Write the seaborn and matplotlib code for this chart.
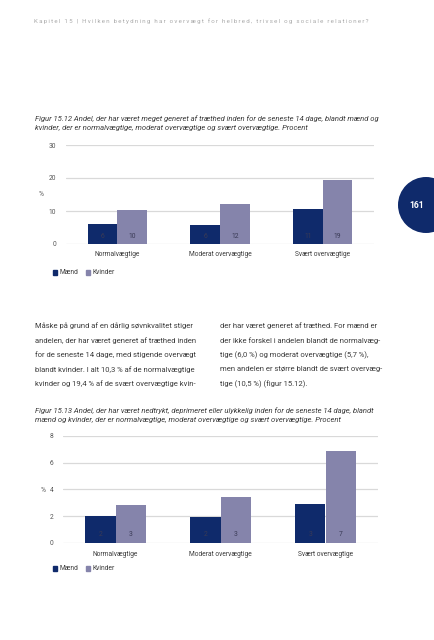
import numpy as np
import pandas as pd
import matplotlib
matplotlib.use("Agg")
import matplotlib.pyplot as plt
import matplotlib.patches as mpatches
import seaborn as sns

# ------------------------------------------------------------------------
# Data
# ------------------------------------------------------------------------
kategorier = ["Normalvægtige", "Moderat overvægtige", "Svært overvægtige"]
koen = ["Mænd", "Kvinder"]

# Figur 15.12 - generet af træthed (procent)
traet_maend = [6.0, 5.7, 10.5]
traet_kvinder = [10.3, 12.0, 19.4]

# Figur 15.13 - nedtrykt, deprimeret eller ulykkelig (procent)
nedtrykt_maend = [2.0, 1.9, 2.9]
nedtrykt_kvinder = [2.8, 3.4, 6.9]

ticks_1 = [0, 10, 20, 30]
ticks_2 = [0, 2, 4, 6, 8]

header = "Kapitel 15 | Hvilken betydning har overvægt for helbred, trivsel og sociale relationer?"
caption_1 = ("Figur 15.12 Andel, der har været meget generet af træthed inden for de seneste 14 dage, blandt mænd og\n"
             "kvinder, der er normalvægtige, moderat overvægtige og svært overvægtige. Procent")
caption_2 = ("Figur 15.13 Andel, der har været nedtrykt, deprimeret eller ulykkelig inden for de seneste 14 dage, blandt\n"
             "mænd og kvinder, der er normalvægtige, moderat overvægtige og svært overvægtige. Procent")
tekst_venstre = ["Måske på grund af en dårlig søvnkvalitet stiger",
                 "andelen, der har været generet af træthed inden",
                 "for de seneste 14 dage, med stigende overvægt",
                 "blandt kvinder. I alt 10,3 % af de normalvægtige",
                 "kvinder og 19,4 % af de svært overvægtige kvin-"]
tekst_hoejre = ["der har været generet af træthed. For mænd er",
                "der ikke forskel i andelen blandt de normalvæg-",
                "tige (6,0 %) og moderat overvægtige (5,7 %),",
                "men andelen er større blandt de svært overvæg-",
                "tige (10,5 %) (figur 15.12)."]

# ------------------------------------------------------------------------
# Styling
# ------------------------------------------------------------------------
sns.set_theme(style="white")
plt.rcParams["font.family"] = ["Roboto", "DejaVu Sans"]

DARK = "#0f2a6b"
LIGHT = "#8584ab"
GRID = "#d9d9d9"
TXT = "#3c3c3c"

W, H = 434, 640
fig = plt.figure(figsize=(W / 100, H / 100), dpi=100)


def fx(px):
    return px / W


def fy(py):
    return 1 - py / H


def draw_chart(left, right, y0, ytop, maend, kvinder, ticks, pct_y, cat_y, leg_y, lab_y):
    ax = fig.add_axes([fx(left), fy(y0), fx(right - left), (y0 - ytop) / H])
    df = pd.DataFrame({
        "kategori": kategorier * 2,
        "køn": [koen[0]] * 3 + [koen[1]] * 3,
        "pct": list(maend) + list(kvinder),
    })
    sns.barplot(data=df, x="kategori", y="pct", hue="køn", order=kategorier,
                hue_order=koen, palette=[DARK, LIGHT], width=0.58,
                saturation=1, legend=False, linewidth=0, ax=ax)
    ax.set_ylim(ticks[0], ticks[-1])
    ax.set_xlim(-0.5, 2.5)
    ax.set_yticks(ticks)
    for t in ticks:
        ax.axhline(t, color=GRID, lw=0.9, zorder=0)
    for s in ax.spines.values():
        s.set_visible(False)
    ax.set_xlabel("")
    ax.set_ylabel("")
    ax.set_xticks([])
    ax.tick_params(axis="y", length=0, pad=7, labelsize=4.8, labelcolor="#555555")
    ax.set_facecolor("none")

    # value labels near the base of each bar
    for cont in ax.containers:
        for p in cont:
            v = p.get_height()
            ax.annotate(f"{int(v + 0.5)}", (p.get_x() + p.get_width() / 2, 0),
                        xytext=(0, (y0 - lab_y) * 0.72), textcoords="offset points",
                        ha="center", va="center", fontsize=4.9, color="#3a3a55")

    # category labels
    for i, k in enumerate(kategorier):
        ax.annotate(k, (i, 0), xytext=(0, -(cat_y - y0) * 0.72), textcoords="offset points",
                    ha="center", va="center", fontsize=4.8, color=TXT, annotation_clip=False)

    fig.text(fx(pct_y[0]), fy(pct_y[1]), "%", fontsize=4.8, color="#555555", ha="center", va="center")

    handles = [mpatches.Patch(color=DARK, label=koen[0]), mpatches.Patch(color=LIGHT, label=koen[1])]
    fig.legend(handles=handles, loc="center left", bbox_to_anchor=(fx(50), fy(leg_y)),
               ncol=2, frameon=False, fontsize=4.8, handlelength=0.7, handleheight=0.7,
               handletextpad=0.3, columnspacing=1.1, labelcolor=TXT, borderaxespad=0)
    return ax


# Figur 15.12
draw_chart(66, 374, 244, 145, traet_maend, traet_kvinder, ticks_1,
           (41, 195), 254, 273, 237)
# Figur 15.13
draw_chart(63, 378, 542.7, 436, nedtrykt_maend, nedtrykt_kvinder, ticks_2,
           (43, 491), 554, 569, 535)

# ------------------------------------------------------------------------
# Page text
# ------------------------------------------------------------------------
# letter-spaced running header (thin spaces between characters)
header_spaced = "\u2009".join(header)
fig.text(fx(34), fy(21), header_spaced, fontsize=4.45, color="#aaaaaa", ha="left", va="center")

fig.text(fx(35), fy(115), caption_1, fontsize=5.5, color=TXT, style="italic",
         ha="left", va="top", linespacing=1.7)
fig.text(fx(35), fy(407), caption_2, fontsize=5.5, color=TXT, style="italic",
         ha="left", va="top", linespacing=1.7)

for i, (a, b) in enumerate(zip(tekst_venstre, tekst_hoejre)):
    yy = 326 + i * 14.5
    fig.text(fx(35), fy(yy), a, fontsize=5.5, color=TXT, ha="left", va="center")
    fig.text(fx(220), fy(yy), b, fontsize=5.5, color=TXT, ha="left", va="center")

# page number circle
fig.add_artist(mpatches.Ellipse((fx(426), fy(205)), 2 * 28 / W, 2 * 28 / H,
                                transform=fig.transFigure, color=DARK, lw=0))
fig.text(fx(417), fy(205), "161", fontsize=6.2, color="white", weight="bold",
         ha="center", va="center")

plt.savefig("out.png", dpi=100)
plt.close()
